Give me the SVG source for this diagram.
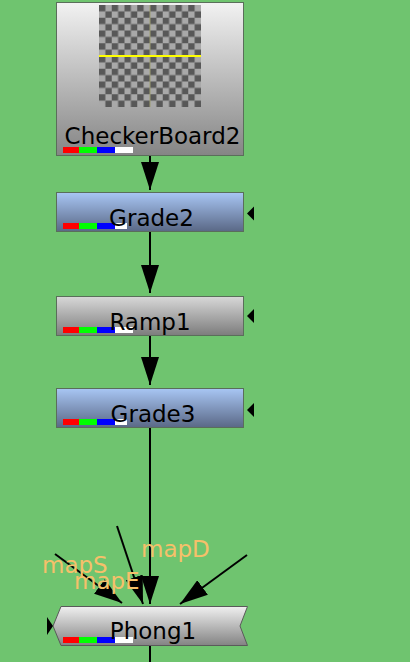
<svg xmlns="http://www.w3.org/2000/svg" width="410" height="662" viewBox="0 0 410 662">
<style>
.node{stroke:#5a6e5a;stroke-width:1}
.lbl{font-family:"DejaVu Sans","Verdana",sans-serif;font-size:23px;fill:#000;text-anchor:middle}
.plbl{font-family:"DejaVu Sans","Verdana",sans-serif;font-size:23px;fill:#f6c06a}
.edge{stroke:#000;stroke-width:2;fill:none}
.tri{fill:#000}
</style>
<defs>
<linearGradient id="gWhite" x1="0" y1="0" x2="0" y2="1"><stop offset="0" stop-color="#f2f2f2"/><stop offset="1" stop-color="#858585"/></linearGradient>
<linearGradient id="gGrade" x1="0" y1="0" x2="0" y2="1"><stop offset="0" stop-color="#a8c6f4"/><stop offset="1" stop-color="#5a6886"/></linearGradient>
<linearGradient id="gRamp" x1="0" y1="0" x2="0" y2="1"><stop offset="0" stop-color="#d8d8d8"/><stop offset="1" stop-color="#7c7c7c"/></linearGradient>
<linearGradient id="gPhong" x1="0" y1="0" x2="0" y2="1"><stop offset="0" stop-color="#f0f0f0"/><stop offset="1" stop-color="#838383"/></linearGradient>
<pattern id="checker" patternUnits="userSpaceOnUse" x="99" y="5" width="12.75" height="12.75">
<rect width="12.75" height="12.75" fill="#a9a9a9"/>
<rect width="6.375" height="6.375" fill="#585858"/>
<rect x="6.375" y="6.375" width="6.375" height="6.375" fill="#585858"/>
</pattern>
<marker id="arr" markerUnits="userSpaceOnUse" markerWidth="28" markerHeight="18" refX="28" refY="9" orient="auto">
<path d="M0,0 L28,9 L0,18 z" fill="#000"/>
</marker>
<g id="bars">
<rect x="0" y="0" width="16" height="6" fill="#ff0000"/>
<rect x="16" y="0" width="18" height="6" fill="#00ff00"/>
<rect x="34" y="0" width="18" height="6" fill="#0000ff"/>
</g>
</defs>
<rect width="410" height="662" fill="#6fc46f"/>

<g id="connectors">
<line class="edge" x1="150" y1="156" x2="150" y2="190" marker-end="url(#arr)"/>
<line class="edge" x1="150" y1="232" x2="150" y2="293" marker-end="url(#arr)"/>
<line class="edge" x1="150" y1="336" x2="150" y2="385" marker-end="url(#arr)"/>
<line class="edge" x1="150" y1="428" x2="150" y2="604" marker-end="url(#arr)"/>
<line class="edge" x1="55" y1="554" x2="122" y2="603" marker-end="url(#arr)"/>
<line class="edge" x1="117" y1="526" x2="143" y2="604" marker-end="url(#arr)"/>
<line class="edge" x1="247" y1="555" x2="180" y2="604" marker-end="url(#arr)"/>
<line class="edge" x1="150" y1="646" x2="150" y2="662"/>
<text class="plbl" x="42" y="573">mapS</text>
<text class="plbl" x="74" y="589">mapE</text>
<text class="plbl" x="141" y="557">mapD</text>
</g>

<g id="CheckerBoard2">
<rect class="node" x="56.5" y="2.5" width="187" height="153" fill="url(#gWhite)"/>
<rect x="99" y="5" width="102" height="102" fill="url(#checker)"/>
<line x1="150" y1="5" x2="150" y2="107" stroke="#9c9c70" stroke-width="1"/>
<line x1="99" y1="56" x2="201" y2="56" stroke="#ffff00" stroke-width="2"/>
<use href="#bars" x="63" y="147"/>
<rect x="115" y="147" width="18" height="6" fill="#ffffff"/>
<text class="lbl" x="152.5" y="144">CheckerBoard2</text>
</g>

<g id="Grade2">
<rect class="node" x="56.5" y="192.5" width="187" height="39" fill="url(#gGrade)"/>
<use href="#bars" x="63" y="223"/>
<rect x="115" y="223" width="12" height="6" fill="#ffffff"/>
<text class="lbl" x="151.5" y="226">Grade2</text>
<path class="tri" d="M247,213.5 L254,206.5 L254,220.5 z"/>
</g>

<g id="Ramp1">
<rect class="node" x="56.5" y="296.5" width="187" height="39" fill="url(#gRamp)"/>
<use href="#bars" x="63" y="327"/>
<rect x="115" y="327" width="18" height="6" fill="#ffffff"/>
<text class="lbl" x="150" y="330">Ramp1</text>
<path class="tri" d="M247,316 L254,309 L254,323 z"/>
</g>

<g id="Grade3">
<rect class="node" x="56.5" y="388.5" width="187" height="39" fill="url(#gGrade)"/>
<use href="#bars" x="63" y="419"/>
<rect x="115" y="419" width="12" height="6" fill="#ffffff"/>
<text class="lbl" x="153" y="422">Grade3</text>
<path class="tri" d="M247,410 L254,403 L254,417 z"/>
</g>

<g id="Phong1">
<path d="M61,606.5 L247.5,606.5 L240,626 L247.5,645.5 L61,645.5 L53,626 z" fill="url(#gPhong)" stroke="#5a5a5a" stroke-width="1"/>
<use href="#bars" x="63" y="637"/>
<rect x="115" y="637" width="18" height="6" fill="#ffffff"/>
<text class="lbl" x="153" y="639">Phong1</text>
<path class="tri" d="M47,617 L53,626 L47,635 z"/>
</g>
</svg>
